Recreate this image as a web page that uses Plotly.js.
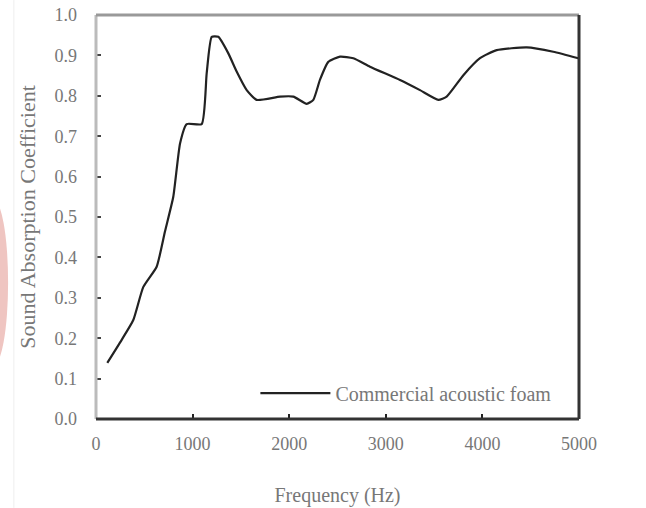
<!DOCTYPE html>
<html>
<head>
<meta charset="utf-8">
<script src="https://cdn.plot.ly/plotly-3.0.1.min.js"></script>
<style>html,body{margin:0;padding:0;background:#fff;}#chart{width:646px;height:508px;}</style>
</head>
<body>
<div id="chart"></div>
<script>
const seriesName = "Commercial acoustic foam";
const frequency = [117, 266, 386, 490, 628, 714, 800, 870, 939, 1094, 1146, 1198, 1266, 1370, 1456, 1560, 1663, 1905, 2043, 2181, 2250, 2319, 2405, 2526, 2664, 2836, 3147, 3354, 3544, 3630, 3803, 3975, 4148, 4459, 4734, 4993];
const absorption = [0.139, 0.196, 0.245, 0.327, 0.377, 0.464, 0.55, 0.682, 0.73, 0.73, 0.856, 0.946, 0.946, 0.905, 0.86, 0.814, 0.79, 0.798, 0.798, 0.78, 0.79, 0.84, 0.884, 0.897, 0.893, 0.872, 0.839, 0.814, 0.79, 0.798, 0.851, 0.893, 0.913, 0.92, 0.909, 0.893];
const xTicks = [0, 1000, 2000, 3000, 4000, 5000];
const yTicks = [0, 0.1, 0.2, 0.3, 0.4, 0.5, 0.6, 0.7, 0.8, 0.9, 1.0];

const font = "Liberation Serif, Times New Roman, serif";
const trace = {
  x: frequency, y: absorption, type: 'scatter', mode: 'lines', name: seriesName,
  line: {color: '#222', width: 2.2, shape: 'spline', smoothing: 0.5}
};
const layout = {
  width: 646, height: 508,
  margin: {l: 96, r: 67, t: 15, b: 89},
  paper_bgcolor: '#fff', plot_bgcolor: '#fff',
  font: {family: font, color: '#666', size: 18},
  showlegend: true,
  legend: {x: 0.33, y: 0.064, xanchor: 'left', yanchor: 'middle', bgcolor: 'rgba(0,0,0,0)',
           font: {family: font, size: 20, color: '#777'}, itemwidth: 70},
  xaxis: {range: [0, 5000], tickvals: xTicks, ticktext: xTicks.map(String), showgrid: false, zeroline: false,
          showline: false, ticks: 'inside', ticklen: 5, tickwidth: 2, tickcolor: '#222',
          tickfont: {family: font, size: 18, color: '#777'}, ticklabelstandoff: 12,
          title: {text: 'Frequency (Hz)', font: {family: font, size: 20, color: '#777'}, standoff: 34}},
  yaxis: {range: [0, 1.0], tickvals: yTicks, tickformat: '.1f', showgrid: false, zeroline: false,
          showline: false, ticks: 'inside', ticklen: 5, tickwidth: 2, tickcolor: '#444',
          tickfont: {family: font, size: 18, color: '#777'}, ticklabelstandoff: 18,
          title: {text: 'Sound Absorption Coefficient', font: {family: font, size: 22, color: '#777'}, standoff: 12}},
  shapes: [
    {type: 'circle', xref: 'paper', yref: 'paper', x0: -0.245, x1: -0.182, y0: 0.13, y1: 0.545,
     fillcolor: 'rgba(215,110,100,0.4)', line: {width: 0}, layer: 'below'},
    {type: 'line', xref: 'paper', yref: 'paper', x0: -0.17, x1: -0.17, y0: -0.22, y1: 1.037,
     line: {color: '#eee', width: 1}},
    {type: 'line', xref: 'paper', yref: 'paper', x0: 0, x1: 0, y0: 0, y1: 1, line: {color: '#bbb', width: 3}},
    {type: 'line', xref: 'paper', yref: 'paper', x0: 0, x1: 1, y0: 1, y1: 1, line: {color: '#999', width: 3}},
    {type: 'line', xref: 'paper', yref: 'paper', x0: 1, x1: 1, y0: 0, y1: 1, line: {color: '#333', width: 3}},
    {type: 'line', xref: 'paper', yref: 'paper', x0: 0, x1: 1, y0: 0, y1: 0, line: {color: '#333', width: 3}}
  ]
};
Plotly.newPlot('chart', [trace], layout, {displayModeBar: false, staticPlot: true});
</script>
</body>
</html>
